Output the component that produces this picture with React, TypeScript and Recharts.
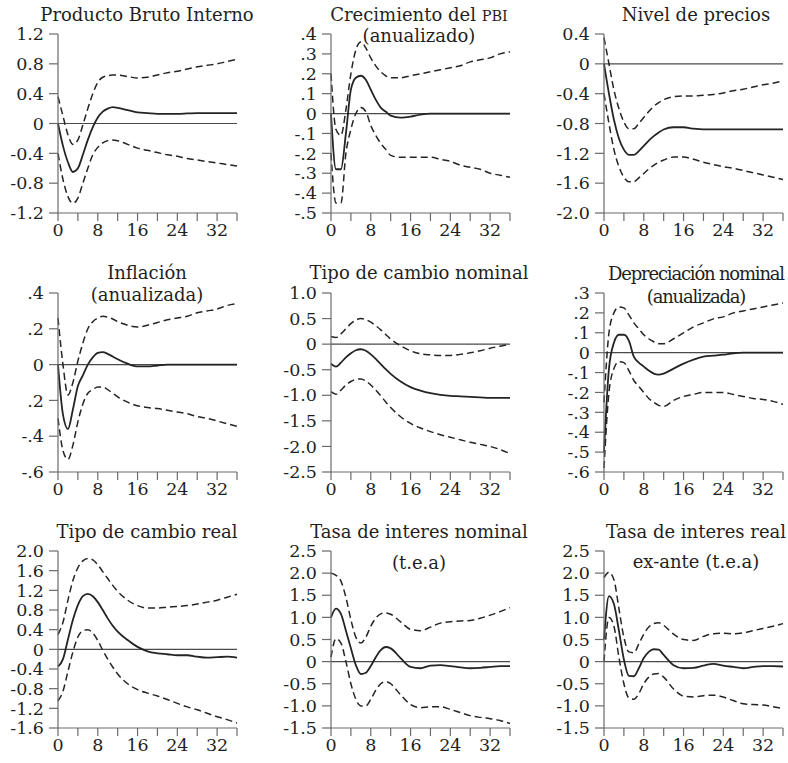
import React from "react";
import { LineChart, Line, XAxis, YAxis, ReferenceLine } from "recharts";

// Periods after the shock (quarters)
const periods = [0, 1, 2, 3, 4, 5, 6, 7, 8, 9, 10, 11, 12, 14, 16, 18, 20, 22, 24, 26, 28, 30, 32, 34, 36];
const xTicks = [0, 4, 8, 12, 16, 20, 24, 28, 32, 36];

// Producto Bruto Interno
const pbiIrf = [0, -0.3, -0.52, -0.65, -0.6, -0.42, -0.22, -0.05, 0.08, 0.16, 0.2, 0.22, 0.21, 0.18, 0.15, 0.14, 0.13, 0.13, 0.13, 0.135, 0.14, 0.14, 0.14, 0.14, 0.14];
const pbiUpper = [0.36, 0.1, -0.15, -0.28, -0.22, -0.02, 0.2, 0.4, 0.55, 0.62, 0.64, 0.65, 0.65, 0.63, 0.61, 0.62, 0.65, 0.68, 0.7, 0.73, 0.76, 0.78, 0.8, 0.83, 0.86];
const pbiLower = [-0.4, -0.75, -0.98, -1.07, -1.0, -0.8, -0.6, -0.42, -0.32, -0.26, -0.23, -0.22, -0.23, -0.28, -0.33, -0.36, -0.39, -0.42, -0.44, -0.47, -0.49, -0.51, -0.53, -0.55, -0.57];
const pbiTicks = [-1.2, -0.8, -0.4, 0, 0.4, 0.8, 1.2];
const pbiLabels = ["-1.2", "-0.8", "-0.4", "0", "0.4", "0.8", "1.2"];

// Crecimiento del PBI
const growthIrf = [0, -0.28, -0.28, -0.1, 0.12, 0.18, 0.19, 0.17, 0.12, 0.07, 0.03, 0.01, -0.01, -0.02, -0.015, -0.005, 0, 0, 0, 0, 0, 0, 0, 0, 0];
const growthUpper = [0.2, -0.08, -0.11, 0.02, 0.2, 0.32, 0.36, 0.33, 0.28, 0.24, 0.21, 0.19, 0.18, 0.18, 0.19, 0.2, 0.21, 0.22, 0.23, 0.24, 0.26, 0.27, 0.28, 0.3, 0.31];
const growthLower = [-0.2, -0.45, -0.45, -0.2, -0.08, 0.0, 0.03, 0.01, -0.06, -0.11, -0.15, -0.18, -0.21, -0.22, -0.22, -0.22, -0.22, -0.23, -0.24, -0.26, -0.27, -0.28, -0.3, -0.31, -0.32];
const growthTicks = [-0.5, -0.4, -0.3, -0.2, -0.1, 0, 0.1, 0.2, 0.3, 0.4];
const growthLabels = ["-.5", "-.4", "-.3", "-.2", "-.1", "0", ".1", ".2", ".3", ".4"];

// Nivel de precios
const priceIrf = [0, -0.4, -0.75, -1.0, -1.15, -1.22, -1.22, -1.17, -1.1, -1.03, -0.97, -0.92, -0.88, -0.85, -0.85, -0.87, -0.88, -0.88, -0.88, -0.88, -0.88, -0.88, -0.88, -0.88, -0.88];
const priceUpper = [0.35, 0.0, -0.35, -0.6, -0.78, -0.87, -0.87, -0.8, -0.72, -0.64, -0.57, -0.52, -0.48, -0.44, -0.43, -0.43, -0.42, -0.41, -0.39, -0.36, -0.34, -0.31, -0.28, -0.26, -0.23];
const priceLower = [-0.4, -0.8, -1.15, -1.38, -1.52, -1.58, -1.58, -1.53, -1.47, -1.41, -1.36, -1.32, -1.29, -1.25, -1.25, -1.28, -1.32, -1.35, -1.38, -1.4, -1.43, -1.46, -1.49, -1.52, -1.55];
const priceTicks = [-2.0, -1.6, -1.2, -0.8, -0.4, 0, 0.4];
const priceLabels = ["-2.0", "-1.6", "-1.2", "-0.8", "-0.4", "0", "0.4"];

// Inflación
const inflIrf = [0, -0.28, -0.36, -0.25, -0.12, -0.06, 0.0, 0.04, 0.065, 0.07, 0.06, 0.045, 0.03, 0.005, -0.01, -0.01, -0.005, 0, 0, 0, 0, 0, 0, 0, 0];
const inflUpper = [0.26, 0.0, -0.17, -0.1, 0.02, 0.12, 0.2, 0.24, 0.26, 0.27, 0.265, 0.255, 0.24, 0.22, 0.21, 0.22, 0.235, 0.25, 0.26, 0.27, 0.29, 0.3, 0.31, 0.33, 0.34];
const inflLower = [-0.3, -0.48, -0.53, -0.45, -0.32, -0.22, -0.16, -0.14, -0.125, -0.125, -0.14, -0.16, -0.18, -0.21, -0.23, -0.24, -0.245, -0.255, -0.265, -0.275, -0.29, -0.3, -0.315, -0.33, -0.345];
const inflTicks = [-0.6, -0.4, -0.2, 0, 0.2, 0.4];
const inflLabels = ["-.6", "-.4", ".2", "0", ".2", ".4"];

// Tipo de cambio nominal
const fxIrf = [-0.38, -0.44, -0.36, -0.26, -0.18, -0.12, -0.1, -0.13, -0.2, -0.29, -0.39, -0.49, -0.58, -0.73, -0.84, -0.91, -0.96, -0.99, -1.01, -1.02, -1.03, -1.04, -1.05, -1.05, -1.05];
const fxUpper = [0.15, 0.13, 0.2, 0.3, 0.4, 0.47, 0.5, 0.48, 0.43, 0.36, 0.28, 0.19, 0.1, -0.03, -0.13, -0.19, -0.21, -0.22, -0.22, -0.2, -0.17, -0.13, -0.08, -0.04, 0.0];
const fxLower = [-0.93, -0.98, -0.9, -0.8, -0.73, -0.69, -0.68, -0.72, -0.8, -0.9, -1.01, -1.13, -1.24, -1.42, -1.55, -1.64, -1.71, -1.77, -1.82, -1.87, -1.92, -1.96, -2.0, -2.06, -2.14];
const fxTicks = [-2.5, -2.0, -1.5, -1.0, -0.5, 0, 0.5, 1.0];
const fxLabels = ["-2.5", "-2.0", "-1.5", "-1.0", "-0.5", "0", "0.5", "1.0"];

// Depreciación nominal
const depIrf = [-0.5, -0.08, 0.05, 0.09, 0.09, 0.06, -0.02, -0.05, -0.07, -0.09, -0.105, -0.11, -0.105, -0.08, -0.055, -0.035, -0.02, -0.015, -0.01, -0.003, 0, 0, 0, 0, 0];
const depUpper = [-0.25, 0.1, 0.2, 0.23, 0.225, 0.19, 0.15, 0.12, 0.09, 0.07, 0.055, 0.045, 0.045, 0.07, 0.1, 0.13, 0.15, 0.17, 0.18, 0.2, 0.21, 0.22, 0.23, 0.24, 0.25];
const depLower = [-0.58, -0.2, -0.08, -0.045, -0.05, -0.09, -0.14, -0.17, -0.2, -0.23, -0.25, -0.265, -0.27, -0.24, -0.22, -0.21, -0.2, -0.2, -0.2, -0.21, -0.22, -0.23, -0.235, -0.245, -0.26];
const depTicks = [-0.6, -0.5, -0.4, -0.3, -0.2, -0.1, 0, 0.1, 0.2, 0.3];
const depLabels = ["-.6", "-.5", "-.4", "-.3", "-.2", "-.1", "0", ".1", ".2", ".3"];

// Tipo de cambio real
const rerIrf = [-0.35, -0.2, 0.2, 0.6, 0.9, 1.08, 1.13, 1.08, 0.96, 0.8, 0.63, 0.48, 0.36, 0.19, 0.05, -0.04, -0.08, -0.1, -0.12, -0.12, -0.15, -0.17, -0.16, -0.15, -0.17];
const rerUpper = [0.3, 0.55, 1.0, 1.4, 1.66, 1.8, 1.85, 1.82, 1.72, 1.58, 1.44, 1.3, 1.18, 1.0, 0.89, 0.84, 0.84, 0.86, 0.87, 0.89, 0.92, 0.96, 1.0, 1.06, 1.12];
const rerLower = [-1.05, -0.85, -0.45, -0.05, 0.25, 0.38, 0.4, 0.33, 0.18, -0.02, -0.2, -0.36, -0.5, -0.7, -0.82, -0.89, -0.95, -1.02, -1.1, -1.17, -1.23, -1.3, -1.37, -1.43, -1.5];
const rerTicks = [-1.6, -1.2, -0.8, -0.4, 0, 0.4, 0.8, 1.2, 1.6, 2.0];
const rerLabels = ["-1.6", "-1.2", "-0.8", "-0.4", "0", "0.4", "0.8", "1.2", "1.6", "2.0"];

// Tasa de interes nominal
const rateIrf = [1.0, 1.2, 1.08, 0.7, 0.3, -0.08, -0.28, -0.25, -0.1, 0.1, 0.26, 0.33, 0.3, 0.08, -0.12, -0.15, -0.09, -0.08, -0.1, -0.13, -0.15, -0.14, -0.12, -0.1, -0.1];
const rateUpper = [2.0, 1.95, 1.82, 1.45, 0.95, 0.55, 0.42, 0.55, 0.8, 0.98, 1.08, 1.1, 1.07, 0.9, 0.73, 0.7, 0.78, 0.87, 0.9, 0.92, 0.93, 0.98, 1.05, 1.13, 1.22];
const rateLower = [0.1, 0.52, 0.42, 0.0, -0.5, -0.85, -1.0, -1.0, -0.85, -0.65, -0.5, -0.45, -0.5, -0.75, -0.97, -1.04, -1.02, -1.02, -1.08, -1.15, -1.22, -1.26, -1.29, -1.33, -1.4];
const rateTicks = [-1.5, -1.0, -0.5, 0, 0.5, 1.0, 1.5, 2.0, 2.5];
const rateLabels = ["-1.5", "-1.0", "-0.5", "0", "0.5", "1.0", "1.5", "2.0", "2.5"];

// Tasa de interes real ex-ante
const realIrf = [0.5, 1.48, 1.3, 0.7, 0.05, -0.32, -0.33, -0.15, 0.08, 0.22, 0.28, 0.27, 0.15, -0.08, -0.15, -0.14, -0.09, -0.05, -0.09, -0.12, -0.15, -0.12, -0.1, -0.1, -0.11];
const realUpper = [1.9, 2.02, 1.85, 1.2, 0.55, 0.22, 0.2, 0.4, 0.62, 0.78, 0.86, 0.88, 0.82, 0.62, 0.5, 0.48, 0.57, 0.63, 0.64, 0.63, 0.65, 0.7, 0.75, 0.8, 0.86];
const realLower = [0.0, 1.0, 0.8, 0.1, -0.5, -0.82, -0.85, -0.72, -0.5, -0.35, -0.28, -0.27, -0.35, -0.62, -0.78, -0.8, -0.77, -0.76, -0.8, -0.88, -0.95, -0.97, -0.98, -1.02, -1.06];

const font = '"DejaVu Serif", serif';
const axisColor = "#6a6a6a";
const textColor = "#1f1f1f";
const lineColor = "#242424";

const colX = [58, 330.5, 604];
const colCenter = [147, 419, 696];
const rowTop = [34, 293, 551];
const rowHeight = [179, 179, 177];
const plotW = 179;
const yAxisW = 60;

interface Panel {
  title: React.ReactNode[];
  titleY: number[];
  titleSpacing?: number;
  irf: number[];
  upper: number[];
  lower: number[];
  ticks: number[];
  labels: string[];
}

const panels: Panel[] = [
  { title: ["Producto Bruto Interno"], titleY: [15], irf: pbiIrf, upper: pbiUpper, lower: pbiLower, ticks: pbiTicks, labels: pbiLabels },
  {
    title: [
      <>Crecimiento del <span style={{ fontSize: 14.5 }}>PBI</span></>,
      "(anualizado)",
    ],
    titleY: [15, 36],
    irf: growthIrf, upper: growthUpper, lower: growthLower, ticks: growthTicks, labels: growthLabels,
  },
  { title: ["Nivel de precios"], titleY: [15], irf: priceIrf, upper: priceUpper, lower: priceLower, ticks: priceTicks, labels: priceLabels },
  { title: ["Inflación", "(anualizada)"], titleY: [273, 295], irf: inflIrf, upper: inflUpper, lower: inflLower, ticks: inflTicks, labels: inflLabels },
  { title: ["Tipo de cambio nominal"], titleY: [273], irf: fxIrf, upper: fxUpper, lower: fxLower, ticks: fxTicks, labels: fxLabels },
  { title: ["Depreciación nominal", "(anualizada)"], titleY: [274, 297], titleSpacing: -1.2, irf: depIrf, upper: depUpper, lower: depLower, ticks: depTicks, labels: depLabels },
  { title: ["Tipo de cambio real"], titleY: [532], irf: rerIrf, upper: rerUpper, lower: rerLower, ticks: rerTicks, labels: rerLabels },
  { title: ["Tasa de interes nominal", "(t.e.a)"], titleY: [532, 563], irf: rateIrf, upper: rateUpper, lower: rateLower, ticks: rateTicks, labels: rateLabels },
  { title: ["Tasa de interes real", "ex-ante (t.e.a)"], titleY: [532, 562], irf: realIrf, upper: realUpper, lower: realLower, ticks: rateTicks, labels: rateLabels },
];

const tickStyle = { fontSize: 17.5, fill: textColor, fontFamily: font };

function IrfPanel({ panel, row, col }: { panel: Panel; row: number; col: number }) {
  const data = periods.map((t, i) => ({
    t,
    irf: panel.irf[i],
    upper: panel.upper[i],
    lower: panel.lower[i],
  }));
  const top = 10;
  const xAxisH = 34;
  const h = rowHeight[row];
  const yMin = panel.ticks[0];
  const yMax = panel.ticks[panel.ticks.length - 1];

  return (
    <div style={{ position: "absolute", left: colX[col] - yAxisW, top: rowTop[row] - top }}>
      <LineChart
        width={yAxisW + plotW + 8}
        height={top + h + xAxisH}
        data={data}
        margin={{ top, right: 8, bottom: 0, left: 0 }}
      >
        <XAxis
          type="number"
          dataKey="t"
          domain={[0, 36]}
          ticks={xTicks}
          interval={0}
          tickFormatter={(v: number) => (v % 8 === 0 && v < 36 ? String(v) : "")}
          tick={tickStyle}
          tickSize={8}
          tickMargin={3}
          height={xAxisH}
          axisLine={{ stroke: axisColor, strokeWidth: 1.2 }}
          tickLine={{ stroke: axisColor, strokeWidth: 1.2 }}
        />
        <YAxis
          type="number"
          domain={[yMin, yMax]}
          ticks={panel.ticks}
          interval={0}
          allowDataOverflow
          tickFormatter={(v: number) => panel.labels[panel.ticks.indexOf(v)] ?? String(v)}
          tick={tickStyle}
          tickSize={9}
          tickMargin={5}
          width={yAxisW}
          axisLine={{ stroke: axisColor, strokeWidth: 1.2 }}
          tickLine={{ stroke: axisColor, strokeWidth: 1.2 }}
        />
        <ReferenceLine y={0} stroke="#4a4a4a" strokeWidth={1.2} />
        <Line type="monotone" dataKey="upper" stroke={lineColor} strokeWidth={1.5} strokeDasharray="7 4" dot={false} isAnimationActive={false} />
        <Line type="monotone" dataKey="lower" stroke={lineColor} strokeWidth={1.5} strokeDasharray="7 4" dot={false} isAnimationActive={false} />
        <Line type="monotone" dataKey="irf" stroke={lineColor} strokeWidth={1.8} dot={false} isAnimationActive={false} />
      </LineChart>
    </div>
  );
}

export default function App() {
  return (
    <div
      style={{
        position: "absolute",
        left: 0,
        top: 0,
        width: 788,
        height: 763,
        background: "#fff",
        fontFamily: font,
        color: textColor,
        overflow: "hidden",
      }}
    >
      {panels.map((p, i) => (
        <IrfPanel key={i} panel={p} row={Math.floor(i / 3)} col={i % 3} />
      ))}
      {panels.map((p, i) =>
        p.title.map((line, j) => (
          <div
            key={`${i}-${j}`}
            style={{
              position: "absolute",
              left: colCenter[i % 3] - 150,
              top: p.titleY[j] - 12,
              width: 300,
              height: 24,
              lineHeight: "24px",
              textAlign: "center",
              fontSize: 18,
              letterSpacing: p.titleSpacing ?? 0,
              whiteSpace: "nowrap",
            }}
          >
            {line}
          </div>
        ))
      )}
    </div>
  );
}
